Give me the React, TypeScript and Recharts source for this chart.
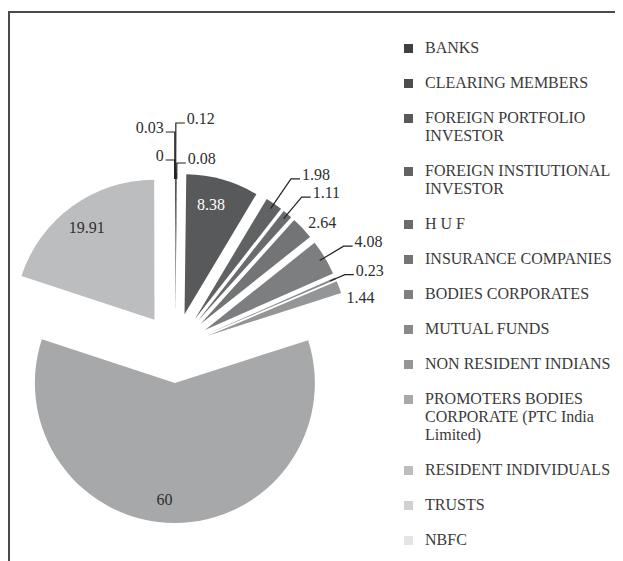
import React from 'react';
import { PieChart, Pie, Cell, Sector, Legend, Tooltip } from 'recharts';

const categories = [
  'BANKS',
  'CLEARING MEMBERS',
  'FOREIGN PORTFOLIO INVESTOR',
  'FOREIGN INSTIUTIONAL INVESTOR',
  'H U F',
  'INSURANCE COMPANIES',
  'BODIES CORPORATES',
  'MUTUAL FUNDS',
  'NON RESIDENT INDIANS',
  'PROMOTERS BODIES CORPORATE (PTC India Limited)',
  'RESIDENT INDIVIDUALS',
  'TRUSTS',
  'NBFC',
];

const shares = [0.12, 0.08, 8.38, 1.98, 1.11, 2.64, 4.08, 0.23, 1.44, 60, 19.91, 0, 0.03];

const colors = [
  '#3f4042', '#4c4d4f', '#58595b', '#616264', '#6a6b6d', '#737476', '#7d7e80',
  '#88898b', '#949597', '#a7a8aa', '#bcbdbf', '#d0d1d3', '#e3e4e5',
];

const data = categories.map((name, i) => ({ name, value: shares[i] }));

const RADIAN = Math.PI / 180;
const EXPLODE = 35;
const FONT = '"Liberation Serif", "DejaVu Serif", serif';

// how each value label sits: inside the slice, on a leader line, or just outside
const labelStyle: Record<string, { kind: 'inside' | 'line' | 'plain'; reach?: number; dx?: number; dy?: number; color?: string }> = {
  'BANKS': { kind: 'line', reach: 50 },
  'CLEARING MEMBERS': { kind: 'line', reach: 10 },
  'FOREIGN PORTFOLIO INVESTOR': { kind: 'inside', color: '#ffffff', dx: -4, dy: -2 },
  'FOREIGN INSTIUTIONAL INVESTOR': { kind: 'line', reach: 30 },
  'H U F': { kind: 'line', reach: 22 },
  'INSURANCE COMPANIES': { kind: 'plain' },
  'BODIES CORPORATES': { kind: 'line', reach: 22 },
  'MUTUAL FUNDS': { kind: 'line', reach: 10 },
  'NON RESIDENT INDIANS': { kind: 'plain', dy: 13 },
  'PROMOTERS BODIES CORPORATE (PTC India Limited)': { kind: 'inside', dx: -10, dy: 5 },
  'RESIDENT INDIVIDUALS': { kind: 'inside', dx: -2, dy: -1 },
  'TRUSTS': { kind: 'line', reach: 13 },
  'NBFC': { kind: 'line', reach: 41 },
};

const explodedCenter = (cx: number, cy: number, midAngle: number) => ({
  x: cx + EXPLODE * Math.cos(-midAngle * RADIAN),
  y: cy + EXPLODE * Math.sin(-midAngle * RADIAN),
});

const ExplodedSector = (props: any) => {
  const c = explodedCenter(props.cx, props.cy, props.midAngle);
  return <Sector {...props} cx={c.x} cy={c.y} stroke="none" />;
};

const renderLabel = (props: any) => {
  const { cx, cy, midAngle, outerRadius, name, value } = props;
  const st = labelStyle[name] || { kind: 'plain' };
  const c = explodedCenter(cx, cy, midAngle);
  const cos = Math.cos(-midAngle * RADIAN);
  const sin = Math.sin(-midAngle * RADIAN);
  const dx = st.dx || 0;
  const dy = st.dy || 0;
  if (st.kind === 'inside') {
    const r = outerRadius * 0.8;
    return (
      <text x={c.x + r * cos + dx} y={c.y + r * sin + dy} textAnchor="middle" dominantBaseline="central"
        fill={st.color || '#2e2e2e'} fontSize={16} fontFamily={FONT}>
        {value}
      </text>
    );
  }
  if (st.kind === 'plain') {
    const r = outerRadius + 8;
    return (
      <text x={c.x + r * cos + dx} y={c.y + r * sin + dy} textAnchor="start" dominantBaseline="central"
        fill="#2e2e2e" fontSize={16} fontFamily={FONT}>
        {value}
      </text>
    );
  }
  const right = cos >= 0;
  const r0 = outerRadius - 6;
  const r1 = outerRadius + (st.reach || 15);
  const sx = c.x + r0 * cos;
  const sy = c.y + r0 * sin;
  const ex = c.x + r1 * cos;
  const ey = c.y + r1 * sin;
  const hx = ex + (right ? 9 : -9);
  return (
    <g>
      <polyline points={`${sx},${sy} ${ex},${ey} ${hx},${ey}`} fill="none" stroke="#222222" strokeWidth={1.2} />
      <text x={hx + (right ? 2 : -2)} y={ey + 1} textAnchor={right ? 'start' : 'end'}
        fill="#2e2e2e" fontSize={16} fontFamily={FONT}>
        {value}
      </text>
    </g>
  );
};

const renderLegend = () => (
  <div style={{ fontFamily: FONT, fontSize: 16, lineHeight: '18px', color: '#3a3a3a' }}>
    {categories.map((name, i) => (
      <div key={name} style={{ display: 'flex', alignItems: 'flex-start', marginBottom: 17 }}>
        <span style={{ width: 9, height: 9, marginTop: 4.5, marginRight: 12, background: colors[i], flexShrink: 0 }} />
        <span style={{ width: 192 }}>{name}</span>
      </div>
    ))}
  </div>
);

export default function App() {
  return (
    <div style={{ paddingTop: 3 }}>
      <div style={{ width: 615, height: 550, borderTop: '2px solid #4a4a4a', borderLeft: '2px solid #4a4a4a' }}>
        <PieChart width={613} height={548} margin={{ top: 0, right: 0, bottom: 0, left: 0 }}>
          <Pie
            data={data}
            dataKey="value"
            nameKey="name"
            cx={165}
            cy={335}
            outerRadius={140}
            startAngle={90}
            endAngle={-270}
            stroke="none"
            label={renderLabel}
            labelLine={false}
            shape={ExplodedSector}
            activeShape={ExplodedSector}
            inactiveShape={ExplodedSector}
            isAnimationActive={false}
          >
            {data.map((d, i) => (
              <Cell key={d.name} fill={colors[i]} />
            ))}
          </Pie>
          <Tooltip defaultIndex={0} content={() => null} cursor={false} />
          <Legend
            layout="vertical"
            align="right"
            verticalAlign="top"
            content={renderLegend}
            wrapperStyle={{ position: 'absolute', left: 394, top: 26, width: 215 }}
          />
        </PieChart>
      </div>
    </div>
  );
}
